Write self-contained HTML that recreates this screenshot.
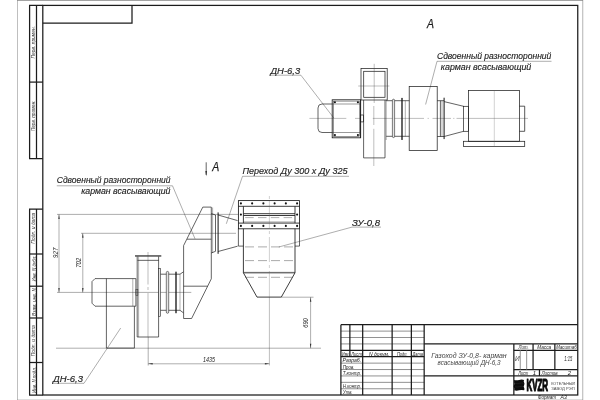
<!DOCTYPE html>
<html><head><meta charset="utf-8"><title>drawing</title>
<style>
html,body{margin:0;padding:0;background:#fff;}
svg{display:block;will-change:transform;transform:translateZ(0)}
text{font-family:"Liberation Sans",sans-serif;font-style:italic;}
.sheet{stroke:#8a8a8a;stroke-width:.6;fill:none}
.frame{stroke:#1c1c1c;stroke-width:1.25;fill:none}
.tb{stroke:#1c1c1c;stroke-width:1.25;fill:none}
.trow{stroke:#8c8c8c;stroke-width:.95;fill:none}
.main{stroke:#1a1a1a;stroke-width:.68;fill:none}
.mainl{stroke:#333;stroke-width:.5;fill:none}
.hv{stroke:#1a1a1a;stroke-width:.85;fill:none}
.cl2{stroke:#666;stroke-width:.3;fill:none}
.hv2{stroke:#222;stroke-width:.75;fill:none}
.rg{stroke:#2a2a2a;stroke-width:.6;fill:#e4e4e4}
.med{stroke:#222;stroke-width:.9;fill:none}
.thk{stroke:#222;stroke-width:1.2;fill:none}
.ring{stroke:#111;stroke-width:1.3;fill:none}
.ring2{stroke:#111;stroke-width:1;fill:none}
.thin{stroke:#333;stroke-width:.4;fill:none}
.cl{stroke:#444;stroke-width:.35;fill:none}
.dash{stroke:#444;stroke-width:.45;fill:none}
.arr{fill:#333;stroke:none}
.dot{fill:#111}
.tx{fill:#222;stroke:#222;stroke-width:.14}
.ta{fill:#1a1a1a;stroke:#1a1a1a;stroke-width:.25}
.t15{fill:#222}
.tv{fill:#333}
.tm{fill:#444}
.ts{fill:#1c1c1c}
.td{fill:#222}
.tl{fill:#444;font-style:normal}
.logo{fill:#0a0a0a;stroke:#0a0a0a;stroke-width:.95;vector-effect:non-scaling-stroke;stroke-linejoin:round;font-weight:bold;font-style:normal}
</style></head>
<body>
<svg width="600" height="400" viewBox="0 0 600 400">
<rect x="0" y="0" width="600" height="400" fill="#fff"/>
<line x1="17" y1="0.43" x2="583" y2="0.43" stroke="#8a8a8a" stroke-width=".86"/>
<line x1="17.5" y1="0" x2="17.5" y2="400" stroke="#8a8a8a" stroke-width=".55"/>
<line x1="582.75" y1="0" x2="582.75" y2="400" stroke="#8a8a8a" stroke-width=".65"/>
<line x1="17" y1="399.8" x2="583" y2="399.8" stroke="#8a8a8a" stroke-width=".4"/>
<rect x="42.8" y="5.4" width="534.95" height="389.6" class="frame"/>
<path d="M42.8 23.1 L132 23.1 L132 5.4" class="tb"/>
<path d="M42.8 5.4 L29.6 5.4 L29.6 158.5 L42.8 158.5" class="tb"/>
<line x1="36.5" y1="5.4" x2="36.5" y2="158.5" class="tb"/>
<path d="M42.8 209 L29.6 209 L29.6 395.0 L42.8 395.0" class="tb"/>
<line x1="36.5" y1="209" x2="36.5" y2="395.0" class="tb"/>
<line x1="29.6" y1="82.1" x2="42.8" y2="82.1" class="tb"/>
<line x1="29.6" y1="254" x2="42.8" y2="254" class="tb"/>
<line x1="29.6" y1="286.2" x2="42.8" y2="286.2" class="tb"/>
<line x1="29.6" y1="318" x2="42.8" y2="318" class="tb"/>
<line x1="29.6" y1="362.5" x2="42.8" y2="362.5" class="tb"/>
<text x="35.5" y="58.55" font-size="6.2" class="tv" text-anchor="start" textLength="32.5" lengthAdjust="spacingAndGlyphs" transform="rotate(-90 35.5 58.55)">Перв. примен.</text>
<text x="35.5" y="131.05" font-size="6.2" class="tv" text-anchor="start" textLength="30.5" lengthAdjust="spacingAndGlyphs" transform="rotate(-90 35.5 131.05)">Перв. примен.</text>
<text x="35.5" y="243.7" font-size="6.2" class="tv" text-anchor="start" textLength="31" lengthAdjust="spacingAndGlyphs" transform="rotate(-90 35.5 243.7)">Подп. и дата</text>
<text x="35.5" y="281.5" font-size="6.2" class="tv" text-anchor="start" textLength="26" lengthAdjust="spacingAndGlyphs" transform="rotate(-90 35.5 281.5)">Инв. N дубл.</text>
<text x="35.5" y="316.0" font-size="6.2" class="tv" text-anchor="start" textLength="28" lengthAdjust="spacingAndGlyphs" transform="rotate(-90 35.5 316.0)">Взам. инв. N</text>
<text x="35.5" y="356.3" font-size="6.2" class="tv" text-anchor="start" textLength="31" lengthAdjust="spacingAndGlyphs" transform="rotate(-90 35.5 356.3)">Подп. и дата</text>
<text x="35.5" y="393.0" font-size="6.2" class="tv" text-anchor="start" textLength="26" lengthAdjust="spacingAndGlyphs" transform="rotate(-90 35.5 393.0)">Инв. N подл.</text>
<line x1="340.9" y1="331.11" x2="424.17" y2="331.11" class="trow"/>
<line x1="340.9" y1="337.51" x2="424.17" y2="337.51" class="trow"/>
<line x1="340.9" y1="343.92" x2="424.17" y2="343.92" class="trow"/>
<line x1="340.9" y1="363.13" x2="424.17" y2="363.13" class="trow"/>
<line x1="340.9" y1="369.54" x2="424.17" y2="369.54" class="trow"/>
<line x1="340.9" y1="375.94" x2="424.17" y2="375.94" class="trow"/>
<line x1="340.9" y1="382.35" x2="424.17" y2="382.35" class="trow"/>
<line x1="340.9" y1="388.75" x2="424.17" y2="388.75" class="trow"/>
<line x1="340.9" y1="324.7" x2="577.75" y2="324.7" class="tb"/>
<line x1="340.9" y1="324.7" x2="340.9" y2="395.0" class="tb"/>
<line x1="340.9" y1="350.32" x2="424.17" y2="350.32" class="tb"/>
<line x1="340.9" y1="356.73" x2="424.17" y2="356.73" class="tb"/>
<line x1="349.87" y1="324.7" x2="349.87" y2="356.73" class="tb"/>
<line x1="362.68" y1="324.7" x2="362.68" y2="395.0" class="tb"/>
<line x1="392.14" y1="324.7" x2="392.14" y2="395.0" class="tb"/>
<line x1="411.36" y1="324.7" x2="411.36" y2="395.0" class="tb"/>
<line x1="424.17" y1="324.7" x2="424.17" y2="395.0" class="tb"/>
<line x1="424.17" y1="343.92" x2="577.75" y2="343.92" class="tb"/>
<line x1="424.17" y1="375.94" x2="577.75" y2="375.94" class="tb"/>
<line x1="513.85" y1="343.92" x2="513.85" y2="395.0" class="tb"/>
<line x1="513.85" y1="350.32" x2="577.75" y2="350.32" class="tb"/>
<line x1="513.85" y1="369.54" x2="577.75" y2="369.54" class="tb"/>
<line x1="533.07" y1="343.92" x2="533.07" y2="369.54" class="tb"/>
<line x1="554.85" y1="343.92" x2="554.85" y2="369.54" class="tb"/>
<line x1="520.26" y1="350.32" x2="520.26" y2="369.54" class="trow"/>
<line x1="526.66" y1="350.32" x2="526.66" y2="369.54" class="trow"/>
<line x1="539.47" y1="369.54" x2="539.47" y2="375.94" class="tb"/>
<text x="342" y="355.83000000000004" font-size="6" class="ts" text-anchor="start" textLength="7.4" lengthAdjust="spacingAndGlyphs">Изм.</text>
<text x="351.3" y="355.83000000000004" font-size="6" class="ts" text-anchor="start" textLength="10.5" lengthAdjust="spacingAndGlyphs">Лист</text>
<text x="369" y="355.83000000000004" font-size="6" class="ts" text-anchor="start" textLength="20.4" lengthAdjust="spacingAndGlyphs">N докум.</text>
<text x="397" y="355.83000000000004" font-size="6" class="ts" text-anchor="start" textLength="10.5" lengthAdjust="spacingAndGlyphs">Подп.</text>
<text x="412.6" y="355.83000000000004" font-size="6" class="ts" text-anchor="start" textLength="10.4" lengthAdjust="spacingAndGlyphs">Дата</text>
<text x="342.6" y="362.43" font-size="6" class="ts" text-anchor="start" textLength="18.6" lengthAdjust="spacingAndGlyphs">Разраб.</text>
<text x="342.8" y="368.84000000000003" font-size="6" class="ts" text-anchor="start" textLength="11.6" lengthAdjust="spacingAndGlyphs">Пров.</text>
<text x="342.8" y="375.24" font-size="6" class="ts" text-anchor="start" textLength="18.4" lengthAdjust="spacingAndGlyphs">Т.контр.</text>
<text x="343" y="388.05" font-size="6" class="ts" text-anchor="start" textLength="18.2" lengthAdjust="spacingAndGlyphs">Н.контр.</text>
<text x="343" y="394.2" font-size="6" class="ts" text-anchor="start" textLength="9.5" lengthAdjust="spacingAndGlyphs">Утв.</text>
<text x="518.6" y="349.32" font-size="6" class="ts" text-anchor="start" textLength="10.0" lengthAdjust="spacingAndGlyphs">Лит.</text>
<text x="537.2" y="349.32" font-size="6" class="ts" text-anchor="start" textLength="14.0" lengthAdjust="spacingAndGlyphs">Масса</text>
<text x="556.2" y="349.32" font-size="6" class="ts" text-anchor="start" textLength="20.4" lengthAdjust="spacingAndGlyphs">Масштаб</text>
<text x="515" y="361.3" font-size="7.6" class="tm" text-anchor="start" textLength="4.7" lengthAdjust="spacingAndGlyphs">И</text>
<text x="564.3" y="361.3" font-size="6.8" class="t15" text-anchor="start" textLength="8" lengthAdjust="spacingAndGlyphs">1:15</text>
<text x="518.2" y="375.04" font-size="6" class="ts" text-anchor="start" textLength="10.1" lengthAdjust="spacingAndGlyphs">Лист</text>
<text x="532.8" y="375.04" font-size="6" class="ts" text-anchor="start">1</text>
<text x="541.4" y="375.04" font-size="6" class="ts" text-anchor="start" textLength="16.3" lengthAdjust="spacingAndGlyphs">Листов</text>
<text x="567.8" y="375.04" font-size="6" class="ts" text-anchor="start">2</text>
<text x="431.3" y="358" font-size="6.5" class="tm" text-anchor="start" textLength="75.4" lengthAdjust="spacingAndGlyphs">Газоход ЗУ-0,8- карман</text>
<text x="437.5" y="365.3" font-size="6.5" class="tm" text-anchor="start" textLength="63" lengthAdjust="spacingAndGlyphs">всасывающий ДН-6,3</text>
<text x="537.8" y="399.3" font-size="6" class="ts" text-anchor="start" textLength="18.2" lengthAdjust="spacingAndGlyphs">Формат</text>
<text x="560.5" y="399.3" font-size="6" class="ts" text-anchor="start" textLength="6.3" lengthAdjust="spacingAndGlyphs">А3</text>
<path d="M514.1 379.9 q2.5 0.8 5 0 t5 0 q-0.8 1.3 0 2.65 t0 2.65 t0 2.65 t0 2.5 q-2.5 -0.8 -5 0 t-5 0 q0.8 -1.3 0 -2.65 t0 -2.65 t0 -2.65 Z" fill="#0c0c0c"/>
<path d="M515 383.3 q2.2 0.7 4.4 0 t4.2 0 M515 386.7 q2.2 0.7 4.4 0 t4.2 0" fill="none" stroke="#fff" stroke-width="0.3" opacity="0.22"/>
<text x="0" y="0" font-size="15.8" class="logo" transform="translate(526.4 390.9) scale(0.505 1)">KVZR</text>
<text x="551.2" y="385.1" font-size="4.2" class="tl" text-anchor="start" textLength="23.8" lengthAdjust="spacingAndGlyphs">КОТЕЛЬНЫЙ</text>
<text x="551.2" y="390.1" font-size="4.2" class="tl" text-anchor="start" textLength="23.4" lengthAdjust="spacingAndGlyphs">ЗАВОД РЭП</text>
<line x1="57" y1="292.4" x2="191.3" y2="292.4" class="thin"/>
<line x1="57" y1="214.4" x2="238" y2="214.4" class="thin"/>
<line x1="59" y1="214.4" x2="59" y2="292.4" class="thin"/>
<path d="M59 214.4 L59.7 218.9 L58.3 218.9 Z" class="arr"/>
<path d="M59 292.4 L58.3 287.9 L59.7 287.9 Z" class="arr"/>
<line x1="81" y1="233.3" x2="236" y2="233.3" class="thin"/>
<line x1="82.8" y1="233.3" x2="82.8" y2="292.4" class="thin"/>
<path d="M82.8 233.3 L83.5 237.8 L82.1 237.8 Z" class="arr"/>
<path d="M82.8 292.4 L82.1 287.9 L83.5 287.9 Z" class="arr"/>
<text x="57.9" y="258" font-size="7" class="td" text-anchor="start" textLength="10.5" lengthAdjust="spacingAndGlyphs" transform="rotate(-90 57.9 258)">927</text>
<text x="80.6" y="267.8" font-size="7" class="td" text-anchor="start" textLength="10" lengthAdjust="spacingAndGlyphs" transform="rotate(-90 80.6 267.8)">702</text>
<line x1="56" y1="348.2" x2="321" y2="348.2" class="thin"/>
<line x1="148.2" y1="337" x2="148.2" y2="365.5" class="thin"/>
<line x1="269.4" y1="297.2" x2="269.4" y2="365.5" class="cl"/>
<line x1="148.2" y1="363.8" x2="269.4" y2="363.8" class="thin"/>
<path d="M148.2 363.8 L152.7 363.1 L152.7 364.5 Z" class="arr"/>
<path d="M269.4 363.8 L264.9 364.5 L264.9 363.1 Z" class="arr"/>
<text x="203" y="361.7" font-size="7" class="td" text-anchor="start" textLength="12" lengthAdjust="spacingAndGlyphs">1435</text>
<line x1="281.3" y1="297.2" x2="313.5" y2="297.2" class="thin"/>
<line x1="310.6" y1="297.2" x2="310.6" y2="348.2" class="thin"/>
<path d="M310.6 297.2 L311.3 301.7 L309.9 301.7 Z" class="arr"/>
<path d="M310.6 348.2 L309.9 343.7 L311.3 343.7 Z" class="arr"/>
<text x="308.3" y="327.8" font-size="7" class="td" text-anchor="start" textLength="9.6" lengthAdjust="spacingAndGlyphs" transform="rotate(-90 308.3 327.8)">690</text>
<path d="M95 278.6 L135.9 278.6 L135.9 306.2 L95 306.2 L92 303.2 L92 281.6 Z" class="main"/>
<line x1="132.8" y1="278.6" x2="132.8" y2="306.2" class="thin"/>
<line x1="106.4" y1="278.6" x2="106.4" y2="348.1" class="main"/>
<path d="M106.4 348.1 L134.4 348.1 L134.4 306.2" class="main"/>
<rect x="135.9" y="289.4" width="2.0" height="6.2" class="mainl"/>
<line x1="135" y1="255.95" x2="161.3" y2="255.95" class="thk"/>
<line x1="137.5" y1="260.35" x2="158.7" y2="260.35" class="main"/>
<line x1="137.2" y1="256.5" x2="137.2" y2="337" class="main"/>
<line x1="138.6" y1="256.5" x2="138.6" y2="337" class="thin"/>
<line x1="158.6" y1="256.5" x2="158.6" y2="337" class="main"/>
<line x1="137.2" y1="337" x2="158.6" y2="337" class="main"/>
<line x1="148" y1="252" x2="148" y2="284.5" class="cl"/>
<line x1="148" y1="287" x2="148" y2="290" class="cl"/>
<line x1="148" y1="293" x2="148" y2="337" class="cl"/>
<rect x="158.6" y="268.3" width="2.0" height="48.2" class="rg"/>
<line x1="160.6" y1="274.2" x2="180" y2="274.2" class="main"/>
<line x1="160.6" y1="310.3" x2="180" y2="310.3" class="main"/>
<rect x="166.3" y="271.4" width="2.4" height="41.9" rx="1.2" class="rg"/>
<line x1="176" y1="272.1" x2="176" y2="312.7" class="ring" stroke-linecap="round"/>
<line x1="180" y1="274.2" x2="180" y2="310.3" class="thin"/>
<line x1="180" y1="274.2" x2="183.5" y2="271.8" class="main"/>
<line x1="180" y1="310.3" x2="183.5" y2="312.9" class="main"/>
<path d="M202.8 207.1 L211.3 207.1 L211.3 278.8 L191.6 318.5 L183.6 318.5 L183.6 245.6 Z" class="main"/>
<line x1="187" y1="239.2" x2="211.3" y2="239.2" class="main"/>
<line x1="183.6" y1="286.2" x2="207.6" y2="286.2" class="main"/>
<line x1="212.6" y1="207.5" x2="212.6" y2="253" class="thin"/>
<line x1="215.5" y1="215" x2="215.5" y2="251.3" class="main"/>
<line x1="218.1" y1="212.4" x2="218.1" y2="253.8" class="ring2"/>
<line x1="211.3" y1="253" x2="215.5" y2="251.3" class="main"/>
<line x1="211.3" y1="213.6" x2="215.5" y2="215" class="main"/>
<line x1="218.1" y1="215" x2="237.6" y2="220.6" class="main"/>
<line x1="218.1" y1="251.5" x2="237.6" y2="246.2" class="main"/>
<rect x="238.4" y="200.6" width="61.1" height="28.2" class="hv"/>
<line x1="238.4" y1="206.3" x2="299.5" y2="206.3" class="hv"/>
<line x1="238.4" y1="223.1" x2="299.5" y2="223.1" class="hv"/>
<line x1="243.4" y1="206.3" x2="243.4" y2="223.1" class="hv"/>
<line x1="295" y1="206.3" x2="295" y2="223.1" class="hv"/>
<line x1="243.4" y1="213.7" x2="295" y2="213.7" class="med"/>
<line x1="243.4" y1="215.5" x2="295" y2="215.5" class="med"/>
<line x1="243.4" y1="221.9" x2="295" y2="221.9" class="thin"/>
<line x1="245.2" y1="217.6" x2="293" y2="217.6" class="thin" stroke-dasharray="8.5 4.3"/>
<circle cx="240.9" cy="203.4" r="1.05" class="dot"/>
<circle cx="240.9" cy="225.9" r="1.05" class="dot"/>
<circle cx="252.14" cy="203.4" r="1.05" class="dot"/>
<circle cx="252.14" cy="225.9" r="1.05" class="dot"/>
<circle cx="263.38" cy="203.4" r="1.05" class="dot"/>
<circle cx="263.38" cy="225.9" r="1.05" class="dot"/>
<circle cx="274.62" cy="203.4" r="1.05" class="dot"/>
<circle cx="274.62" cy="225.9" r="1.05" class="dot"/>
<circle cx="285.86" cy="203.4" r="1.05" class="dot"/>
<circle cx="285.86" cy="225.9" r="1.05" class="dot"/>
<circle cx="297.1" cy="203.4" r="1.05" class="dot"/>
<circle cx="297.1" cy="225.9" r="1.05" class="dot"/>
<circle cx="240.9" cy="214.6" r="1.05" class="dot"/>
<circle cx="297.1" cy="214.6" r="1.05" class="dot"/>
<path d="M238.4 228.8 L238.4 246.1 L243.4 246.1" class="main"/>
<path d="M299.5 228.8 L299.5 246.1 L295 246.1" class="main"/>
<path d="M243.4 228.8 L243.4 272.8 L257 297.1 L281.3 297.1 L295 272.8 L295 228.8" class="hv"/>
<line x1="243.4" y1="272.4" x2="295" y2="272.4" class="main"/>
<line x1="243.4" y1="273.3" x2="295" y2="273.3" class="thin"/>
<line x1="245" y1="246.9" x2="294" y2="246.9" class="dash" stroke-dasharray="9 4"/>
<line x1="245" y1="260.6" x2="294" y2="260.6" class="dash" stroke-dasharray="9 4"/>
<line x1="245" y1="277.3" x2="294" y2="277.3" class="dash" stroke-dasharray="9 4"/>
<line x1="269.4" y1="196" x2="269.4" y2="199" class="cl2"/>
<line x1="269.4" y1="201" x2="269.4" y2="228" class="cl2"/>
<line x1="269.4" y1="231" x2="269.4" y2="234" class="cl2"/>
<line x1="269.4" y1="237" x2="269.4" y2="262" class="cl2"/>
<line x1="269.4" y1="265" x2="269.4" y2="268" class="cl2"/>
<line x1="269.4" y1="271" x2="269.4" y2="297" class="cl2"/>
<text x="56.8" y="183.2" font-size="8.7" class="tx" text-anchor="start" textLength="113.7" lengthAdjust="spacingAndGlyphs">Сдвоенный разносторонний</text>
<text x="81.2" y="194.2" font-size="8.7" class="tx" text-anchor="start" textLength="89.3" lengthAdjust="spacingAndGlyphs">карман всасывающий</text>
<path d="M56.8 185.8 L172.5 185.8 L195 238.8" class="thin"/>
<text x="242.5" y="174.2" font-size="9" class="tx" text-anchor="start" textLength="105" lengthAdjust="spacingAndGlyphs">Переход Ду  300 х  Ду 325</text>
<path d="M349 176.3 L242.5 176.3 L226.3 223.8" class="thin"/>
<text x="352" y="225.6" font-size="9" class="tx" text-anchor="start" textLength="28" lengthAdjust="spacingAndGlyphs">ЗУ-0,8</text>
<path d="M381 227.1 L352 227.1 L278.8 247" class="thin"/>
<text x="53" y="381.6" font-size="9.4" class="tx" text-anchor="start" textLength="30" lengthAdjust="spacingAndGlyphs">ДН-6,3</text>
<path d="M52 383.3 L84 383.3 L120.7 328" class="thin"/>
<line x1="206.2" y1="162.3" x2="206.2" y2="175" class="main"/>
<path d="M206.2 176.3 L205.35 171.1 L207.05 171.1 Z" class="arr"/>
<text x="212.3" y="171" font-size="13.3" class="ta" text-anchor="start" textLength="7" lengthAdjust="spacingAndGlyphs">А</text>
<text x="427" y="28.3" font-size="13.3" class="ta" text-anchor="start" textLength="7" lengthAdjust="spacingAndGlyphs">А</text>
<text x="437" y="59.3" font-size="8.7" class="tx" text-anchor="start" textLength="114.3" lengthAdjust="spacingAndGlyphs">Сдвоенный разносторонний</text>
<text x="440.8" y="70" font-size="8.7" class="tx" text-anchor="start" textLength="90.5" lengthAdjust="spacingAndGlyphs">карман всасывающий</text>
<path d="M551.5 61.3 L437 61.3 L425.6 104.5" class="thin"/>
<text x="270.4" y="74.3" font-size="8.5" class="tx" text-anchor="start" textLength="29.8" lengthAdjust="spacingAndGlyphs">ДН-6,3</text>
<path d="M270.4 75.2 L300.9 75.2 L333.8 118" class="thin"/>
<line x1="309.4" y1="118.4" x2="346.3" y2="118.4" class="cl"/>
<line x1="355" y1="118.4" x2="360.5" y2="118.4" class="cl"/>
<line x1="372.8" y1="118.4" x2="424" y2="118.4" class="cl"/>
<line x1="427.6" y1="118.4" x2="428.8" y2="118.4" class="cl"/>
<line x1="432.5" y1="118.4" x2="451" y2="118.4" class="cl"/>
<line x1="453.2" y1="118.4" x2="454.4" y2="118.4" class="cl"/>
<line x1="456.5" y1="118.4" x2="528" y2="118.4" class="cl"/>
<path d="M332.2 104 L322 104 Q318 104 318 108 L318 128.5 Q318 132.5 322 132.5 L332.2 132.5" class="main"/>
<path d="M332.2 104 L360 104 M332.2 132.5 L360 132.5" class="mainl"/>
<rect x="332.2" y="99.8" width="28.4" height="38.0" class="hv"/>
<rect x="333.4" y="101.1" width="26.0" height="35.3" class="mainl"/>
<circle cx="334.9" cy="102.3" r="1.05" class="dot"/>
<circle cx="357.9" cy="102.3" r="1.05" class="dot"/>
<circle cx="334.9" cy="135.1" r="1.05" class="dot"/>
<circle cx="357.9" cy="135.1" r="1.05" class="dot"/>
<line x1="360.6" y1="99.8" x2="360.6" y2="137.8" class="med"/>
<rect x="360.6" y="115" width="2.9" height="6.9" class="main"/>
<rect x="361" y="68.6" width="26.2" height="31.4" class="hv2"/>
<rect x="363.7" y="71.3" width="21.3" height="26.0" class="hv2"/>
<line x1="374.2" y1="63.8" x2="374.2" y2="103" class="cl"/>
<line x1="358.2" y1="86" x2="389.4" y2="86" class="cl"/>
<path d="M363.6 100 L363.6 157.9 L385 157.9 L385 100" class="main"/>
<line x1="386.2" y1="100" x2="386.2" y2="140" class="thin"/>
<line x1="373.8" y1="106" x2="373.8" y2="125" class="cl"/>
<line x1="373.8" y1="128.8" x2="373.8" y2="166" class="cl"/>
<line x1="386.2" y1="100.7" x2="409.3" y2="100.7" class="main"/>
<line x1="386.2" y1="136.3" x2="409.3" y2="136.3" class="main"/>
<rect x="392.4" y="99.2" width="2.2" height="38.4" rx="1.1" class="rg"/>
<line x1="402" y1="98.4" x2="402" y2="139.4" class="ring" stroke-linecap="round"/>
<line x1="405.3" y1="100.7" x2="405.3" y2="136.3" class="thin"/>
<rect x="409.2" y="86.6" width="28.0" height="63.9" class="hv2"/>
<line x1="437.2" y1="100.7" x2="444" y2="100.7" class="main"/>
<line x1="437.2" y1="136.5" x2="444" y2="136.5" class="main"/>
<line x1="440.4" y1="100.7" x2="440.4" y2="136.5" class="main"/>
<line x1="442" y1="100.7" x2="442" y2="136.5" class="thin"/>
<line x1="444.1" y1="98.1" x2="444.1" y2="138.7" class="ring2" stroke-linecap="round"/>
<line x1="444.1" y1="101.6" x2="463.6" y2="106.3" class="main"/>
<line x1="444.1" y1="136.5" x2="463.6" y2="131.3" class="main"/>
<rect x="463.6" y="106.3" width="4.8" height="25.0" class="main"/>
<rect x="468.4" y="90.5" width="51.0" height="50.8" class="hv2"/>
<rect x="463.5" y="141.3" width="61.2" height="5.3" class="hv2"/>
<path d="M519.4 106.2 L524.7 106.2 L524.7 131.3 L519.4 131.3" class="hv2"/>
<line x1="494.3" y1="90.5" x2="494.3" y2="146.6" class="cl2"/>
</svg>
</body></html>
